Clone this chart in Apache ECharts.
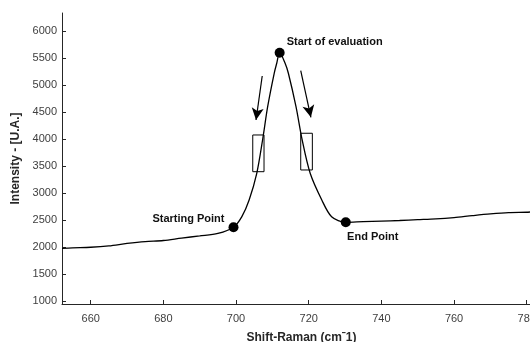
<!DOCTYPE html>
<html>
<head>
<meta charset="utf-8">
<script src="https://cdn.jsdelivr.net/npm/echarts@6/dist/echarts.min.js"></script>
<style>
  html, body { margin: 0; padding: 0; background: #fff; }
  #chart { width: 530px; height: 342px; }
</style>
</head>
<body>
<div id="chart"></div>
<script>
// Raman spectrum around the 712 cm-1 band
const shift = [652.1, 655, 660, 665, 670, 675, 680, 685, 690, 695, 699.3,
  701.6, 703.6, 705.7, 707.3, 708.7, 710.5, 711.2, 712.0, 713.5, 714.4, 716.5,
  718.2, 720.4, 723.6, 726.3, 730.2, 735, 740, 745, 750, 755, 760, 765, 770, 775, 780, 780.9];
const intensity = [1975, 1985, 1995, 2020, 2065, 2100, 2120, 2165, 2205, 2250, 2365,
  2561, 2870, 3365, 3981, 4598, 5217, 5402, 5598, 5402, 5217, 4598,
  3981, 3365, 2870, 2561, 2457, 2470, 2480, 2490, 2505, 2520, 2545, 2580, 2612, 2636, 2643, 2648];

// Marked points of the evaluation
const pointNames = ['Starting Point', 'Start of evaluation', 'End Point'];
const pointShift = [699.3, 712.0, 730.2];
const pointIntensity = [2365, 5598, 2457];

// Evaluation windows on each flank: [x0, y0, x1, y1]
const windows = [
  [704.6, 4074, 707.7, 3394],
  [717.8, 4106, 721.0, 3426]
];
// Direction arrows: [xFrom, yFrom, xTo, yTo]
const arrows = [
  [707.2, 5167, 705.5, 4352],
  [717.8, 5265, 720.6, 4402]
];

const xTicks = [660, 680, 700, 720, 740, 760, 780];
const yTicks = [1000, 1500, 2000, 2500, 3000, 3500, 4000, 4500, 5000, 5500, 6000];

const font = 'Liberation Sans, Arial, sans-serif';
const axisColor = '#262626';
const labelColor = '#404040';

const labelPlacement = [
  { position: 'left', distance: 4, offset: [0, -8] },
  { position: 'right', distance: 2, offset: [0, -11] },
  { position: 'bottom', distance: 4, offset: [27, 0] }
];

const chart = echarts.init(document.getElementById('chart'));
chart.setOption({
  animation: false,
  grid: { left: 62, right: 0, top: 13, bottom: 38, containLabel: false, outerBoundsMode: 'none' },
  xAxis: {
    type: 'value',
    min: 652.1,
    max: 780.9,
    name: 'Shift-Raman (cm\u02C91)',
    nameLocation: 'middle',
    nameGap: 28,
    nameTextStyle: { fontFamily: font, fontWeight: 'bold', fontSize: 12, color: '#262626', padding: [0, 0, 0, 11] },
    axisLine: { lineStyle: { color: axisColor, width: 1 } },
    axisTick: { inside: true, length: 4, customValues: xTicks, lineStyle: { color: axisColor } },
    axisLabel: { customValues: xTicks, fontFamily: font, fontSize: 11, color: labelColor, margin: 9,
      formatter: v => String(v) },
    splitLine: { show: false }
  },
  yAxis: {
    type: 'value',
    min: 944,
    max: 6333,
    name: 'Intensity - [U.A.]',
    nameLocation: 'middle',
    nameGap: 34,
    nameRotate: 90,
    nameTextStyle: { fontFamily: font, fontWeight: 'bold', fontSize: 12, color: '#262626' },
    axisLine: { show: true, lineStyle: { color: axisColor, width: 1 } },
    axisTick: { show: true, inside: true, length: 4, customValues: yTicks, lineStyle: { color: axisColor } },
    axisLabel: { customValues: yTicks, fontFamily: font, fontSize: 11, color: labelColor, margin: 5,
      formatter: v => String(v) },
    splitLine: { show: false }
  },
  series: [
    {
      type: 'line',
      data: shift.map((x, i) => [x, intensity[i]]),
      smooth: 0.3,
      symbol: 'none',
      lineStyle: { color: '#000', width: 1.3 },
      markArea: {
        silent: true,
        itemStyle: { color: 'rgba(0,0,0,0)', borderColor: '#000', borderWidth: 1 },
        data: windows.map(w => [{ coord: [w[0], w[1]] }, { coord: [w[2], w[3]] }])
      },
      markLine: {
        silent: true,
        symbol: ['none', 'arrow'],
        symbolSize: [9, 12],
        label: { show: false },
        lineStyle: { color: '#000', width: 1.2, type: 'solid' },
        data: arrows.map(a => [{ coord: [a[0], a[1]] }, { coord: [a[2], a[3]] }])
      }
    },
    {
      type: 'scatter',
      symbol: 'circle',
      symbolSize: 10,
      itemStyle: { color: '#000', opacity: 1 },
      data: pointNames.map((n, i) => ({
        name: n,
        value: [pointShift[i], pointIntensity[i]],
        label: Object.assign({
          show: true,
          formatter: n,
          fontFamily: font,
          fontWeight: 'bold',
          fontSize: 11,
          color: '#111'
        }, labelPlacement[i])
      }))
    }
  ]
});
</script>
</body>
</html>
